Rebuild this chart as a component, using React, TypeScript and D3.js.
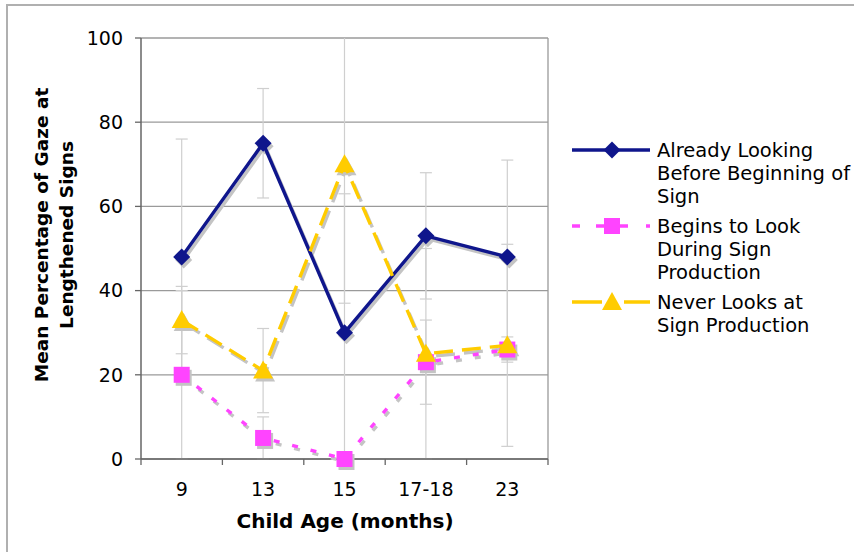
import React from "react";
import * as d3 from "d3";

const categories = ["9", "13", "15", "17-18", "23"];
const yTicks = [0, 20, 40, 60, 80, 100];

const seriesNames = [
  ["Already Looking", "Before Beginning of", "Sign"],
  ["Begins to Look", "During Sign", "Production"],
  ["Never Looks at", "Sign Production"],
];

const alreadyLooking = [48, 75, 30, 53, 48];
const beginsToLook = [20, 5, 0, 23, 26];
const neverLooks = [33, 21, 70, 25, 27];

// standard deviation per point
const alreadyLookingErr = [28, 13, 33, 15, 23];
const beginsToLookErr = [20, 5, 0, 10, 3];
const neverLooksErr = [8, 10, 33, 25, 24];

const W = 854;
const H = 552;
const plot = { left: 141, right: 548, top: 38, bottom: 459 };
const FONT = "'DejaVu Sans', Verdana, sans-serif";

type Marker = "diamond" | "square" | "triangle";

const seriesStyle: { color: string; dash: string | undefined; marker: Marker }[] = [
  { color: "#0f168c", dash: undefined, marker: "diamond" },
  { color: "#ff44ff", dash: "6 13", marker: "square" },
  { color: "#ffcc00", dash: "19 9", marker: "triangle" },
];

function markerPath(kind: Marker): string {
  if (kind === "diamond") return "M0,-8.5L8.5,0L0,8.5L-8.5,0Z";
  if (kind === "square") return "M-8,-8H8V8H-8Z";
  return "M0,-10L10,8L-10,8Z";
}

export default function App() {
  const x = d3.scaleBand<string>().domain(categories).range([plot.left, plot.right]);
  const cx = (c: string) => (x(c) as number) + x.bandwidth() / 2;
  const y = d3.scaleLinear().domain([0, 100]).range([plot.bottom, plot.top]);

  const data = [alreadyLooking, beginsToLook, neverLooks];
  const errs = [alreadyLookingErr, beginsToLookErr, neverLooksErr];

  const line = d3
    .line<number>()
    .x((_, i) => cx(categories[i]))
    .y((v) => y(v));

  const clampV = (v: number) => Math.max(0, Math.min(100, v));

  const legendY = [150, 226, 302];

  return (
    <svg width={W} height={H} style={{ position: "absolute", left: 0, top: 0 }}>
      <rect x={0} y={0} width={W} height={H} fill="#fff" />
      <rect x={7} y={5} width={W + 20} height={H + 20} fill="none" stroke="#b0b0b0" strokeWidth={2} />

      {/* horizontal gridlines */}
      {yTicks.map((t) => (
        <line key={t} x1={plot.left} x2={plot.right} y1={y(t)} y2={y(t)} stroke="#9a9a9a" strokeWidth={1.3} />
      ))}
      <line x1={plot.right} x2={plot.right} y1={plot.top} y2={plot.bottom} stroke="#9a9a9a" strokeWidth={1.3} />

      {/* error bars */}
      {data.map((vals, si) =>
        vals.map((v, i) => {
          const e = errs[si][i];
          if (e <= 0) return null;
          const px = cx(categories[i]);
          const hi = v + e;
          const lo = v - e;
          return (
            <g key={`e${si}-${i}`} stroke="#cfcfcf" strokeWidth={1.2}>
              <line x1={px} x2={px} y1={y(clampV(hi))} y2={y(clampV(lo))} />
              {hi <= 100 && <line x1={px - 6} x2={px + 6} y1={y(hi)} y2={y(hi)} />}
              {lo >= 0 && <line x1={px - 6} x2={px + 6} y1={y(lo)} y2={y(lo)} />}
            </g>
          );
        })
      )}

      {/* axes */}
      <line x1={plot.left} x2={plot.left} y1={plot.top} y2={plot.bottom} stroke="#666" strokeWidth={1.5} />
      <line x1={plot.left} x2={plot.right} y1={plot.bottom} y2={plot.bottom} stroke="#666" strokeWidth={1.5} />
      {yTicks.map((t) => (
        <g key={`yt${t}`}>
          <line x1={plot.left - 6} x2={plot.left} y1={y(t)} y2={y(t)} stroke="#666" strokeWidth={1.3} />
          <text x={123} y={y(t)} dy="0.36em" textAnchor="end" fontFamily={FONT} fontSize={19} fill="#000">
            {t}
          </text>
        </g>
      ))}
      {[...categories.map((c) => x(c) as number), plot.right].map((bx, i) => (
        <line key={`xt${i}`} x1={bx} x2={bx} y1={plot.bottom} y2={plot.bottom + 6} stroke="#666" strokeWidth={1.3} />
      ))}
      {categories.map((c) => (
        <text key={`xl${c}`} x={cx(c)} y={496} textAnchor="middle" fontFamily={FONT} fontSize={19} fill="#000">
          {c}
        </text>
      ))}

      {/* series: shadow then line */}
      {data.map((vals, si) => {
        const st = seriesStyle[si];
        return (
          <g key={`s${si}`}>
            <g transform="translate(2,3)">
              <path d={line(vals) || ""} fill="none" stroke="#c4c4c4" strokeWidth={3.4} strokeDasharray={st.dash} />
              {vals.map((v, i) => (
                <path key={i} d={markerPath(st.marker)} transform={`translate(${cx(categories[i])},${y(v)})`} fill="#c4c4c4" />
              ))}
            </g>
          </g>
        );
      })}
      {data.map((vals, si) => {
        const st = seriesStyle[si];
        return (
          <g key={`m${si}`}>
            <path d={line(vals) || ""} fill="none" stroke={st.color} strokeWidth={3.4} strokeDasharray={st.dash} />
            {vals.map((v, i) => (
              <path key={i} d={markerPath(st.marker)} transform={`translate(${cx(categories[i])},${y(v)})`} fill={st.color} />
            ))}
          </g>
        );
      })}

      {/* axis titles */}
      <text x={345} y={528} textAnchor="middle" fontFamily={FONT} fontSize={20} fontWeight="bold" fill="#000">
        Child Age (months)
      </text>
      <g transform="translate(48,235) rotate(-90)">
        <text x={0} y={0} textAnchor="middle" fontFamily={FONT} fontSize={18.5} fontWeight="bold" fill="#000">
          Mean Percentage of Gaze at
        </text>
        <text x={0} y={25} textAnchor="middle" fontFamily={FONT} fontSize={18.5} fontWeight="bold" fill="#000">
          Lengthened Signs
        </text>
      </g>

      {/* legend */}
      {seriesNames.map((lines, si) => {
        const st = seriesStyle[si];
        const ly = legendY[si];
        return (
          <g key={`lg${si}`}>
            <line x1={572} x2={650} y1={ly} y2={ly} stroke={st.color} strokeWidth={3.4} strokeDasharray={si === 1 ? "8 16 32 18 8" : si === 2 ? "30 22 30" : undefined} />
            <path d={markerPath(st.marker)} transform={`translate(612,${ly})`} fill={st.color} />
            {lines.map((t, li) => (
              <text key={li} x={657} y={ly + li * 23} dy="0.36em" fontFamily={FONT} fontSize={19.5} fill="#000">
                {t}
              </text>
            ))}
          </g>
        );
      })}
    </svg>
  );
}
